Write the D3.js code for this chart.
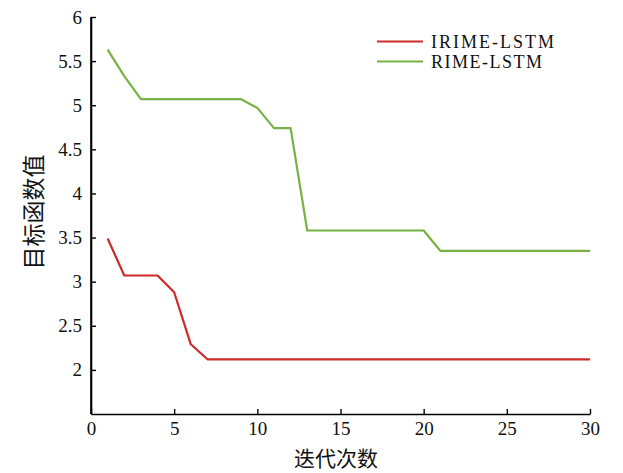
<!DOCTYPE html>
<html><head><meta charset="utf-8">
<script src="https://cdn.jsdelivr.net/npm/d3@7"></script>
<style>body{margin:0;background:#fff}</style>
</head><body>
<svg id="chart" width="623" height="473"></svg>
<script>
const iterations = d3.range(1, 31);
const irimeValues = [3.49,3.07,3.07,3.07,2.88,2.29,2.12,2.12,2.12,2.12,2.12,2.12,2.12,2.12,2.12,2.12,2.12,2.12,2.12,2.12,2.12,2.12,2.12,2.12,2.12,2.12,2.12,2.12,2.12,2.12];
const rimeValues = [5.63,5.33,5.07,5.07,5.07,5.07,5.07,5.07,5.07,4.97,4.74,4.74,3.58,3.58,3.58,3.58,3.58,3.58,3.58,3.58,3.35,3.35,3.35,3.35,3.35,3.35,3.35,3.35,3.35,3.35];
const xTicks = [0,5,10,15,20,25,30];
const yTicks = [2,2.5,3,3.5,4,4.5,5,5.5,6];
const seriesNames = ["IRIME-LSTM","RIME-LSTM"];
const seriesColors = ["#cf2a2a","#77b244"];

const svg = d3.select("#chart");
const x = d3.scaleLinear().domain([0,30]).range([91,590]);
const y = d3.scaleLinear().domain([1.5,6]).range([414,17]);
const font = "'Liberation Serif','Times New Roman',serif";

const xAxis = svg.append("g").attr("transform","translate(0,414)")
  .call(d3.axisBottom(x).tickValues(xTicks).tickFormat(d3.format("d")).tickSizeInner(-5).tickSizeOuter(0).tickPadding(8));
const yAxis = svg.append("g").attr("transform","translate(91,0)")
  .call(d3.axisLeft(y).tickValues(yTicks).tickFormat(d=>String(d)).tickSizeInner(-5).tickSizeOuter(0).tickPadding(9));
[xAxis,yAxis].forEach(g=>{
  g.attr("font-family",font).attr("font-size",19);
  g.select(".domain").attr("stroke","#000").attr("stroke-width",1.6);
  g.selectAll(".tick line").attr("stroke","#000").attr("stroke-width",1.4);
  g.selectAll(".tick text").style("font-family",font).style("font-size","19px").attr("fill","#111");
});
yAxis.append("line").attr("x1",0).attr("x2",0).attr("y1",y(6)).attr("y2",y(1.5)).attr("stroke","#000").attr("stroke-width",1.6);

const line = d3.line().x((d,i)=>x(iterations[i])).y(d=>y(d));
[irimeValues, rimeValues].forEach((vals,k)=>{
  svg.append("path").datum(vals).attr("d",line).attr("fill","none")
    .attr("stroke",seriesColors[k]).attr("stroke-width",2.2).attr("stroke-linejoin","round");
});

// legend
seriesNames.forEach((n,k)=>{
  const ly = 41.5 + k*20;
  svg.append("line").attr("x1",377).attr("x2",423).attr("y1",ly).attr("y2",ly)
    .attr("stroke",seriesColors[k]).attr("stroke-width",2.2);
  svg.append("text").attr("x",431).attr("y",ly).attr("dy","0.35em")
    .style("font-family",font).style("font-size","18px").attr("textLength",k===0?123:111).attr("fill","#111").text(n);
});

// axis titles
svg.append("text").attr("x",336).attr("y",466).attr("text-anchor","middle")
  .style("font-family","'Noto Sans CJK SC',sans-serif").style("font-size","21px").attr("fill","#111").text("迭代次数");
svg.append("text").attr("transform","translate(34,212) rotate(-90)").attr("text-anchor","middle").attr("dy","0.35em")
  .style("font-family","'Noto Sans CJK SC',sans-serif").style("font-size","23px").attr("fill","#111").text("目标函数值");
</script>
</body></html>
